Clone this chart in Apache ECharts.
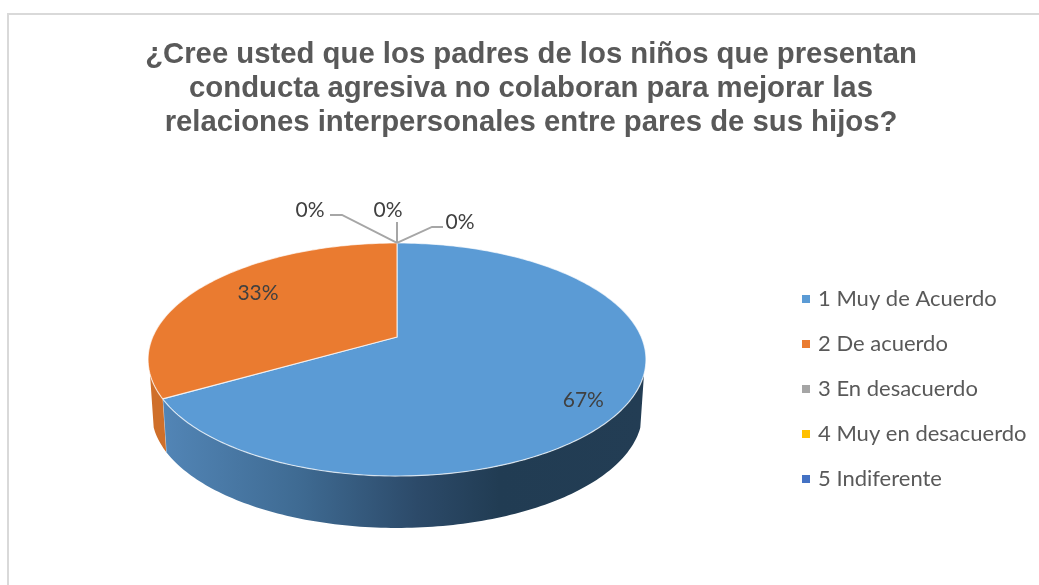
<!DOCTYPE html>
<html>
<head>
<meta charset="utf-8">
<style>
  html, body { margin: 0; padding: 0; background: #fff; }
  #chart { width: 1039px; height: 585px; }
</style>
<script src="https://cdn.jsdelivr.net/npm/echarts@6/dist/echarts.min.js"></script>
</head>
<body>
<div id="chart"></div>
<script>
const titleLines = [
  '¿Cree usted que los padres de los niños que presentan',
  'conducta agresiva no colaboran para mejorar las',
  'relaciones interpersonales entre pares de sus hijos?'
]
const categories = ['1 Muy de Acuerdo', '2 De acuerdo', '3 En desacuerdo', '4 Muy en desacuerdo', '5 Indiferente']
const values = [66.7, 33.3, 0, 0, 0]
const colors = ['#5b9bd5', '#ea7b30', '#a5a5a5', '#ffc000', '#4472c4']

const total = values.reduce((a, b) => a + b, 0)

// tilted pie, the library has no 3d pie without gl so it is projected here
const pie = { cx: 397, cy: 337, sx: 244.3, sy: 112.2, k: 0.193, depth: 54, shrink: 0.985 }
const RAD = Math.PI / 180
const edgeAngle = Math.acos(-pie.k) + 7 * RAD // wall only shows below this point of the rim

function project(angle, r, bottom) {
  const u = r * Math.sin(angle)
  const v = r * Math.cos(angle)
  const w = 1 + pie.k * v
  const f = bottom ? pie.shrink : 1
  return [pie.cx + f * pie.sx * u / w, pie.cy - f * pie.sy * v / w + (bottom ? pie.depth : 0)]
}

function arcPoints(from, to, r, bottom) {
  const pts = []
  const n = Math.max(2, Math.ceil(Math.abs(to - from) / RAD))
  for (let i = 0; i <= n; i++) {
    pts.push(project(from + (to - from) * i / n, r, bottom))
  }
  return pts
}

const wallFill = [
  {
    type: 'linear', x: 0, y: 0, x2: 1, y2: 0,
    colorStops: [
      { offset: 0, color: '#5285b6' },
      { offset: 0.28, color: '#3f6b93' },
      { offset: 0.53, color: '#2c4a69' },
      { offset: 0.7, color: '#213c53' },
      { offset: 1, color: '#233d54' }
    ]
  },
  '#cf6f2a', '#8a8a8a', '#d6a200', '#375f9f'
]

// label placement, as dx/dy from the slice middle (big slices)
const labelOffset = [[3, 15], [18, -2]]
// zero slices have a leader line out of the rim: elbow, line end, text centre
const leaders = {
  2: { elbow: [-55, -28], end: [-67, -28], text: [-87, -33] },
  3: { elbow: [0, -21], end: [0, -21], text: [-9, -33] },
  4: { elbow: [35, -16], end: [46, -16], text: [63, -21] }
}

function sliceStart(index) {
  let sum = 0
  for (let i = 0; i < index; i++) sum += values[i]
  return sum / total * 2 * Math.PI
}

function makeRender(index) {
  return function(params, api) {
    const value = api.value(0)
    const start = sliceStart(index)
    const end = start + value / total * 2 * Math.PI
    const percent = Math.round(value / total * 100) + '%'
    const children = []
    const textStyle = { text: percent, font: '21px Lato', fill: '#404040', align: 'center', verticalAlign: 'middle' }

    if (value > 0) {
      const wallFrom = Math.max(start, edgeAngle)
      const wallTo = Math.min(end, 2 * Math.PI - edgeAngle)
      if (wallTo > wallFrom) {
        const wall = arcPoints(wallFrom, wallTo, 1, false).concat(arcPoints(wallTo, wallFrom, 1, true))
        children.push({ type: 'polygon', shape: { points: wall }, style: { fill: wallFill[index] } })
        if (wallTo === end) {
          children.push({
            type: 'polyline',
            shape: { points: [project(end, 1, false), project(end, 1, true)] },
            style: { stroke: 'rgba(255,255,255,0.55)', lineWidth: 1, fill: null }
          })
        }
      }
      const top = [[pie.cx, pie.cy]].concat(arcPoints(start, end, 1, false))
      children.push({
        type: 'polygon',
        shape: { points: top },
        style: { fill: colors[index], stroke: 'rgba(255,255,255,0.7)', lineWidth: 1.2, lineJoin: 'round' }
      })
      const mid = project((start + end) / 2, 0.8, false)
      children.push({
        type: 'text',
        x: mid[0] + labelOffset[index][0],
        y: mid[1] + labelOffset[index][1],
        style: textStyle
      })
    } else {
      const base = project(start, 1, false)
      const l = leaders[index]
      children.push({
        type: 'polyline',
        shape: {
          points: [
            base,
            [base[0] + l.elbow[0], base[1] + l.elbow[1]],
            [base[0] + l.end[0], base[1] + l.end[1]]
          ]
        },
        style: { stroke: '#a6a6a6', lineWidth: 2, fill: null }
      })
      children.push({
        type: 'text',
        x: base[0] + l.text[0],
        y: base[1] + l.text[1],
        style: textStyle
      })
    }
    return { type: 'group', children: children }
  }
}

const chart = echarts.init(document.getElementById('chart'))

chart.setOption({
  backgroundColor: '#fff',
  animation: false,
  color: colors,
  title: {
    text: titleLines.join('\n'),
    left: 526,
    top: 33,
    textAlign: 'center',
    textStyle: {
      fontFamily: '"Liberation Sans"',
      fontSize: 29.3,
      fontWeight: 'bold',
      color: '#595959',
      lineHeight: 34
    }
  },
  legend: {
    orient: 'vertical',
    left: 797,
    top: 282,
    icon: 'rect',
    itemWidth: 8,
    itemHeight: 8,
    itemGap: 21,
    data: categories,
    textStyle: {
      fontFamily: 'Lato',
      fontSize: 22,
      color: '#595959',
      padding: [0, 0, 0, 3],
      lineHeight: 24
    }
  },
  graphic: [
    {
      type: 'polyline',
      silent: true,
      shape: { points: [[8, 585], [8, 14], [1039, 14]] },
      style: { stroke: '#d9d9d9', lineWidth: 2, fill: null }
    }
  ],
  series: categories.map((name, i) => ({
    name: name,
    type: 'custom',
    coordinateSystem: 'none',
    silent: true,
    itemStyle: { color: colors[i] },
    data: [[values[i]]],
    renderItem: makeRender(i)
  }))
})
</script>
</body>
</html>
